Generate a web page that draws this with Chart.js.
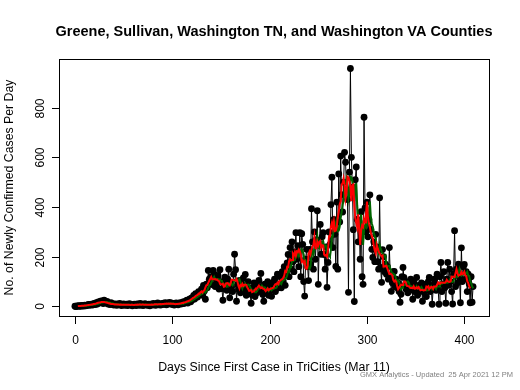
<!DOCTYPE html>
<html>
<head>
<meta charset="utf-8">
<script src="https://cdn.jsdelivr.net/npm/chart.js@4.4.1/dist/chart.umd.min.js"></script>
<style>
body { margin: 0; background: #fff; }
canvas { display: block; }
</style>
</head>
<body>
<canvas id="casesChart" width="520" height="390"></canvas>
<script>
var titleText = 'Greene, Sullivan, Washington TN, and Washington VA Counties';
var xTitle = 'Days Since First Case in TriCities (Mar 11)';
var yTitle = 'No. of Newly Confirmed Cases Per Day';
var footerText = 'GMX Analytics - Updated  25 Apr 2021 12 PM';
var xTicks = [0, 100, 200, 300, 400];
var yTicks = [0, 200, 400, 600, 800];

// new cases per day, day 0 = Mar 11
var dailyCases = [
    1, 0, 2, 1, 3, 2, 1, 4, 3, 2,
    5, 3, 4, 6, 8, 5, 7, 9, 6, 10,
    12, 8, 15, 10, 18, 14, 20, 22, 16, 12,
    25, 18, 14, 20, 10, 12, 8, 15, 9, 11,
    6, 8, 10, 5, 9, 7, 12, 6, 4, 8,
    10, 5, 7, 9, 4, 6, 11, 8, 5, 3,
    7, 9, 6, 4, 10, 8, 5, 12, 6, 9,
    4, 7, 11, 6, 8, 5, 9, 3, 7, 10,
    6, 12, 8, 5, 9, 14, 7, 10, 6, 11,
    8, 13, 9, 15, 7, 12, 10, 16, 11, 14,
    8, 12, 6, 10, 14, 9, 7, 11, 15, 10,
    13, 18, 12, 20, 16, 25, 14, 22, 30, 19,
    35, 28, 45, 30, 52, 40, 38, 60, 48, 55,
    70, 45, 85, 62, 29, 90, 75, 145, 110, 95,
    120, 88, 145, 130, 80, 110, 95, 125, 70, 148,
    100, 72, 25, 90, 118, 85, 65, 110, 150, 35,
    95, 78, 60, 130, 210, 148, 21, 88, 70, 105,
    55, 92, 80, 115, 62, 129, 45, 85, 100, 70,
    50, 13, 75, 60, 95, 40, 85, 55, 70, 105,
    62, 133, 80, 48, 21, 90, 70, 58, 100, 45,
    80, 65, 41, 95, 72, 110, 60, 85, 130, 75,
    90, 120, 75, 140, 100, 160, 85, 130, 175, 209,
    120, 237, 150, 260, 180, 140, 220, 297, 190, 245,
    160, 297, 120, 293, 250, 100, 42, 190, 230, 160,
    104, 230, 170, 393, 260, 150, 300, 190, 269, 385,
    89, 250, 330, 210, 280, 297, 209, 150, 240, 77,
    177, 300, 250, 410, 520, 237, 350, 290, 161, 420,
    150, 533, 340, 605, 450, 380, 500, 620, 580, 470,
    430, 57, 540, 957, 600, 480, 309, 20, 510, 561,
    350, 260, 340, 190, 381, 120, 89, 761, 396, 300,
    420, 280, 350, 449, 310, 230, 197, 260, 180, 290,
    240, 180, 150, 437, 157, 97, 229, 200, 140, 170,
    130, 160, 110, 237, 120, 61, 95, 140, 141, 80,
    110, 75, 95, 60, 17, 49, 120, 157, 117, 85,
    70, 100, 55, 90, 65, 110, 80, 29, 95, 60,
    75, 117, 45, 85, 60, 70, 95, 21, 80, 55,
    90, 40, 75, 100, 117, 60, 85, 9, 70, 110,
    95, 65, 130, 80, 9, 120, 177, 60, 90, 140,
    75, 13, 110, 177, 85, 150, 100, 60, 10, 130,
    305, 80, 150, 95, 170, 120, 15, 236, 100, 160,
    169, 110, 140, 60, 130, 90, 15, 120, 17, 80
];

// 7 day averages: red is centred, green is trailing
function weekAverage(values, centred) {
    var out = [];
    var lo = centred ? -3 : -6;
    var hi = centred ? 3 : 0;
    for (var i = 0; i < values.length; i++) {
        if (i + lo < 0 || i + hi >= values.length) continue;
        var sum = 0;
        for (var k = i + lo; k <= i + hi; k++) sum += values[k];
        out.push({ x: i, y: sum / 7 });
    }
    return out;
}

var points = dailyCases.map(function (v, i) { return { x: i, y: v }; });
var redAvg = weekAverage(dailyCases, true);
var greenAvg = weekAverage(dailyCases, false);

var dayMax = dailyCases.length - 1;
var caseMax = Math.max.apply(null, dailyCases);

var fontName = '"Liberation Sans", Arial, Helvetica, sans-serif';

var baseAxes = {
    id: 'baseAxes',
    afterDraw: function (chart) {
        var ctx = chart.ctx;
        var a = chart.chartArea;
        var xs = chart.scales.x;
        var ys = chart.scales.y;
        ctx.save();
        ctx.strokeStyle = '#000';
        ctx.lineWidth = 1;
        ctx.strokeRect(Math.round(a.left) + 0.5, Math.round(a.top) + 0.5,
            Math.round(a.right - a.left), Math.round(a.bottom - a.top));

        ctx.fillStyle = '#000';
        ctx.font = '12px ' + fontName;
        ctx.textAlign = 'center';
        ctx.textBaseline = 'alphabetic';
        xTicks.forEach(function (t) {
            var px = Math.round(xs.getPixelForValue(t)) + 0.5;
            ctx.beginPath();
            ctx.moveTo(px, Math.round(a.bottom) + 1);
            ctx.lineTo(px, Math.round(a.bottom) + 8);
            ctx.stroke();
            ctx.fillText(String(t), px, 344);
        });

        yTicks.forEach(function (t) {
            var py = Math.round(ys.getPixelForValue(t)) + 0.5;
            ctx.beginPath();
            ctx.moveTo(Math.round(a.left) - 7, py);
            ctx.lineTo(Math.round(a.left), py);
            ctx.stroke();
            ctx.save();
            ctx.translate(43.5, py);
            ctx.rotate(-Math.PI / 2);
            ctx.fillText(String(t), 0, 0);
            ctx.restore();
        });

        ctx.font = '12.3px ' + fontName;
        ctx.fillText(xTitle, (a.left + a.right) / 2, 371);

        ctx.save();
        ctx.translate(13, (a.top + a.bottom) / 2);
        ctx.rotate(-Math.PI / 2);
        ctx.fillText(yTitle, 0, 0);
        ctx.restore();

        ctx.font = 'bold 14.5px ' + fontName;
        ctx.fillText(titleText, (a.left + a.right) / 2, 36);

        ctx.font = '7.5px ' + fontName;
        ctx.fillStyle = '#808080';
        ctx.textAlign = 'right';
        ctx.fillText(footerText, 513, 377);
        ctx.restore();
    }
};

new Chart(document.getElementById('casesChart'), {
    type: 'line',
    data: {
        datasets: [
            {
                label: '7 day average',
                data: redAvg,
                borderColor: '#ff0000',
                borderWidth: 2,
                pointRadius: 0,
                tension: 0,
                order: 0
            },
            {
                label: 'trailing average',
                data: greenAvg,
                borderColor: '#006400',
                borderWidth: 2,
                pointRadius: 0,
                tension: 0,
                order: 1
            },
            {
                label: 'daily cases',
                data: points,
                borderColor: '#000000',
                borderWidth: 1,
                backgroundColor: '#000000',
                pointRadius: 3.4,
                pointBorderWidth: 0,
                pointBackgroundColor: '#000000',
                tension: 0,
                order: 2
            }
        ]
    },
    options: {
        responsive: false,
        animation: false,
        layout: {
            padding: { left: 59, right: 31, top: 59, bottom: 74 }
        },
        scales: {
            x: {
                type: 'linear',
                display: false,
                min: -0.04 * dayMax,
                max: dayMax * 1.04
            },
            y: {
                type: 'linear',
                display: false,
                min: -0.04 * caseMax,
                max: caseMax * 1.04
            }
        },
        plugins: {
            legend: { display: false },
            tooltip: { enabled: false },
            title: { display: false }
        }
    },
    plugins: [baseAxes]
});
</script>
</body>
</html>
